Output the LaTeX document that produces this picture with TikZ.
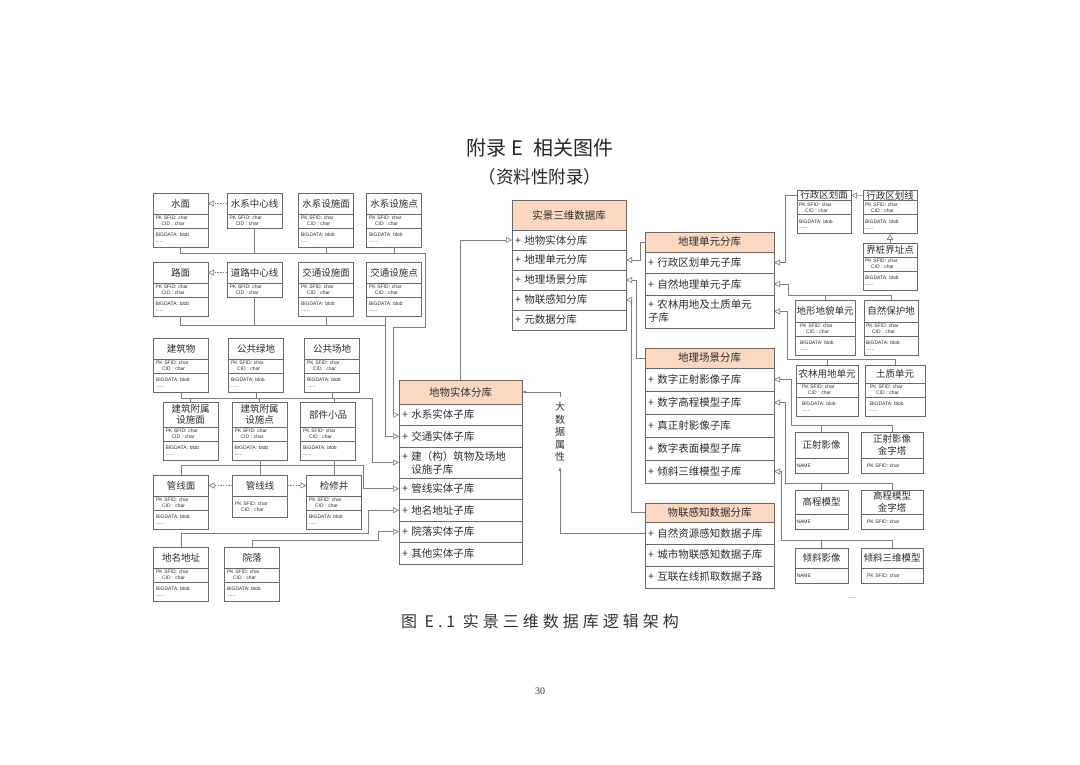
\documentclass[tikz,border=0pt]{standalone}
\usepackage{fontspec}
\setmainfont{Liberation Serif}
\setsansfont{Liberation Sans}
\newfontfamily\cjk{Noto Sans CJK SC}
\newfontfamily\capcjk[LetterSpace=25]{Noto Sans CJK SC}
\usetikzlibrary{positioning,arrows.meta}

\definecolor{boxgray}{RGB}{105,105,105}
\definecolor{linkgray}{RGB}{125,125,125}
\definecolor{txtgray}{RGB}{45,45,45}
\definecolor{peach}{RGB}{250,216,194}

\tikzset{
  entw/.initial=55, enth/.initial=21,
  enttitle/.style={draw=boxgray, line width=0.6pt, outer sep=0pt, inner sep=1pt, anchor=north,
    minimum width=\pgfkeysvalueof{/tikz/entw}, minimum height=\pgfkeysvalueof{/tikz/enth},
    align=center, text=txtgray, font=\cjk\fontsize{9.5}{11.5}\selectfont},
  entattr/.style={draw=boxgray, line width=0.6pt, outer sep=0pt, inner sep=1.5pt,
    minimum width=\pgfkeysvalueof{/tikz/entw}, minimum height=14, text width=50pt,
    align=left, text=txtgray, font=\sffamily\fontsize{5}{5.8}\selectfont},
  entblob/.style={entattr, minimum height=19},
  dbhead/.style={draw=boxgray, line width=0.6pt, fill=peach, outer sep=0pt, text=txtgray,
    font=\cjk\fontsize{10.5}{13}\selectfont},
  dbrow/.style={draw=boxgray, line width=0.6pt, outer sep=0pt, inner xsep=3pt, inner ysep=2pt,
    align=left, text=txtgray, font=\cjk\fontsize{10.5}{13}\selectfont},
  link/.style={draw=linkgray, line width=0.6pt},
  gen/.style={link, -{Triangle[open, length=6pt, width=6pt]}},
  dep/.style={gen, dash pattern=on 1.5pt off 1.2pt},
  attr/.style={link, -{Latex[length=4pt, width=3pt]}},
}

% entity with title, keys and blob
\newcommand{\entbox}[4][]{%
  \begin{scope}[#1]
    \node[enttitle] (#2) at #3 {#4};
    \node[entattr, below=0pt of #2] (#2a) {PK SFID: char\\\hspace*{6pt}CID : char};
    \node[entblob, below=0pt of #2a] (#2b) {BIGDATA: blob\\......};
  \end{scope}}
% entity with title and keys only
\newcommand{\keybox}[4][]{%
  \begin{scope}[#1]
    \node[enttitle] (#2) at #3 {#4};
    \node[entattr, below=0pt of #2] (#2a) {PK SFID: char\\\hspace*{6pt}CID : char};
  \end{scope}}
% image entity with one field
\newcommand{\imgbox}[5][]{%
  \begin{scope}[#1]
    \node[enttitle] (#2) at #3 {#4};
    \node[entattr, minimum height=15, below=0pt of #2] (#2a) {#5};
  \end{scope}}

\begin{document}
\begin{tikzpicture}[x=1pt,y=-1pt]
\path[use as bounding box, fill=white] (0,0) rectangle (1080,764);

\node[font=\cjk\fontsize{20}{24}\selectfont, text=black!85] (title) at (540,148) {附录 E\hspace{10pt}相关图件};
\node[font=\cjk\fontsize{17.5}{21}\selectfont, text=black!85] (subtitle) at (540,177) {（资料性附录）};

% left entities
\entbox{shuimian}{(180.5,193)}{水面}
\keybox{sxzxx}{(254.5,193)}{水系中心线}
\entbox{sxssm}{(326,193)}{水系设施面}
\entbox{sxssd}{(394,193)}{水系设施点}
\entbox{lumian}{(180.5,262)}{路面}
\keybox{dlzxx}{(254.5,262)}{道路中心线}
\entbox{jtssm}{(326,262)}{交通设施面}
\entbox{jtssd}{(394,262)}{交通设施点}
\entbox{jzw}{(181,338)}{建筑物}
\entbox{ggld}{(256,338)}{公共绿地}
\entbox{ggcd}{(332,338)}{公共场地}
\entbox[enth=25]{jzfsm}{(190.5,402)}{建筑附属\\设施面}
\entbox[enth=25]{jzfsd}{(259.5,402)}{建筑附属\\设施点}
\entbox[enth=25]{bjxp}{(328,402)}{部件小品}
\entbox{gxm}{(181,475)}{管线面}
\keybox[entattr/.append style={minimum height=21}]{gxx}{(260,475)}{管线线}
\entbox{jxj}{(334,475)}{检修井}
\entbox{dmdz}{(181,547)}{地名地址}
\entbox{yl}{(252,547)}{院落}

% right entities
\entbox[entw=54, enth=10]{xzqhm}{(824,190)}{行政区划面}
\entbox[entw=54, enth=10]{xzqhx}{(890,190)}{行政区划线}
\entbox[entw=54, enth=14]{jzjzd}{(890,243)}{界桩界址点}
\entbox[entw=60, enth=22]{dxdm}{(825,300)}{地形地貌单元}
\entbox[entw=54, enth=22]{zrbhd}{(891,300)}{自然保护地}
\entbox[entw=62, enth=18]{nlyd}{(827,365)}{农林用地单元}
\entbox[entw=60, enth=18]{tzdy}{(895,365)}{土质单元}
\imgbox[entw=53, enth=26]{zsyx}{(821.5,432)}{正射影像}{NAME}
\imgbox[entw=62, enth=26]{zsjzt}{(892,432)}{正射影像\\金字塔}{PK SFID: char}
\imgbox[entw=53, enth=24]{gcmx}{(821.5,490)}{高程模型}{NAME}
\imgbox[entw=62, enth=24]{gcjzt}{(892,490)}{高程模型\\金字塔}{PK SFID: char}
\imgbox[entw=53, enth=20]{qxyx}{(821.5,548)}{倾斜影像}{NAME}
\imgbox[entw=62, enth=20]{qxmx}{(892,548)}{倾斜三维模型}{PK SFID: char}
\node[font=\sffamily\fontsize{5}{6}\selectfont, text=txtgray] (more) at (852,598) {......};

% databases
\begin{scope}[dbhead/.append style={minimum width=114, minimum height=30}, dbrow/.append style={text width=108pt, minimum height=20}]
\node[dbhead, anchor=north west] (skhead) at (512,200) {实景三维数据库};
\node[dbrow, below=0pt of skhead] (sk1) {+ 地物实体分库};
\node[dbrow, below=0pt of sk1] (sk2) {+ 地理单元分库};
\node[dbrow, below=0pt of sk2] (sk3) {+ 地理场景分库};
\node[dbrow, below=0pt of sk3] (sk4) {+ 物联感知分库};
\node[dbrow, below=0pt of sk4] (sk5) {+ 元数据分库};
\end{scope}

\begin{scope}[dbhead/.append style={minimum width=123, minimum height=24}, dbrow/.append style={text width=117pt, minimum height=21.5}]
\node[dbhead, anchor=north west] (dwhead) at (399,380) {地物实体分库};
\node[dbrow, below=0pt of dwhead] (dw1) {+ 水系实体子库};
\node[dbrow, below=0pt of dw1] (dw2) {+ 交通实体子库};
\node[dbrow, below=0pt of dw2, minimum height=31] (dw3) {+ 建（构）筑物及场地\\\phantom{+ }设施子库};
\node[dbrow, below=0pt of dw3] (dw4) {+ 管线实体子库};
\node[dbrow, below=0pt of dw4] (dw5) {+ 地名地址子库};
\node[dbrow, below=0pt of dw5] (dw6) {+ 院落实体子库};
\node[dbrow, below=0pt of dw6] (dw7) {+ 其他实体子库};
\end{scope}

\begin{scope}[dbhead/.append style={minimum width=129, minimum height=20}, dbrow/.append style={text width=123pt}]
\node[dbhead, anchor=north west] (dyhead) at (645,232) {地理单元分库};
\node[dbrow, below=0pt of dyhead, minimum height=21] (dy1) {+ 行政区划单元子库};
\node[dbrow, below=0pt of dy1, minimum height=22] (dy2) {+ 自然地理单元子库};
\node[dbrow, below=0pt of dy2, minimum height=33] (dy3) {+ 农林用地及土质单元\\子库};
\node[dbhead, anchor=north west] (dchead) at (645,348) {地理场景分库};
\node[dbrow, below=0pt of dchead, minimum height=23] (dc1) {+ 数字正射影像子库};
\node[dbrow, below=0pt of dc1, minimum height=23] (dc2) {+ 数字高程模型子库};
\node[dbrow, below=0pt of dc2, minimum height=23] (dc3) {+ 真正射影像子库};
\node[dbrow, below=0pt of dc3, minimum height=23] (dc4) {+ 数字表面模型子库};
\node[dbrow, below=0pt of dc4, minimum height=23] (dc5) {+ 倾斜三维模型子库};
\node[dbhead, anchor=north west, minimum height=19] (wlhead) at (645,503) {物联感知数据分库};
\node[dbrow, below=0pt of wlhead, minimum height=22] (wl1) {+ 自然资源感知数据子库};
\node[dbrow, below=0pt of wl1, minimum height=22] (wl2) {+ 城市物联感知数据子库};
\node[dbrow, below=0pt of wl2, minimum height=22] (wl3) {+ 互联在线抓取数据子路};
\end{scope}

\node[align=center, inner sep=5pt, text=txtgray, font=\cjk\fontsize{10}{12.5}\selectfont] (bigattr) at (560,432) {大\\数\\据\\属\\性};

% bends of the left connectors
\coordinate (sxbus) at (425,253);
\coordinate (sxbend) at (393,327);
\coordinate (jtbus) at (385,325);
\coordinate (jzbus) at (372,398);
\coordinate (gxbus) at (363,465);
\coordinate (dmbend) at (368,533);
\coordinate (ylbend) at (378,540);

\draw[dep] (sxzxx.west) -- (shuimian.east);
\draw[dep] (dlzxx.west) -- (lumian.east);
\draw[dep] (gxx.west) -- (gxm.east);
\draw[dep] (gxx.east) -- (jxj.west);

\draw[gen] (shuimianb.south) |- (sxbus) |- (sxbend) |- (dw1.west);
\draw[link] (sxzxxa.south) -- (sxzxxa.south |- sxbus);
\draw[link] (sxssmb.south) -- (sxssmb.south |- sxbus);
\draw[link] (sxssdb.south) -- (sxssdb.south |- sxbus);

\draw[link] (lumianb.south) |- (jtbus);
\draw[link] (dlzxxa.south) -- (dlzxxa.south |- jtbus);
\draw[link] (jtssmb.south) -- (jtssmb.south |- jtbus);
\draw[gen] (jtssdb.south -| jtbus) |- (dw2.west);

\draw[gen] (jzwb.south) |- (jzbus) |- (dw3.west);
\draw[link] (ggldb.south) -- (ggldb.south |- jzbus);
\draw[link] (ggcdb.south) -- (ggcdb.south |- jzbus);
\draw[link] (jzfsm.north) -- (jzfsm.north |- jzbus);
\draw[link] (jzfsd.north) -- (jzfsd.north |- jzbus);
\draw[link] (bjxp.north -| jxj.north) -- (jzbus -| jxj.north);

\draw[gen] (gxm.north) |- (gxbus) |- (dw4.west);
\draw[link] (jzfsdb.south -| gxx.north) -- (gxx.north);
\draw[link] (bjxpb.south -| jxj.north) -- (jxj.north);

\draw[gen] (dmdz.north) |- (dmbend) |- (dw5.west);
\draw[gen] (yl.north) |- (ylbend) |- (dw6.west);

% database links
\draw[gen] (dwhead.north) |- (sk1.west);
\draw[gen] (dyhead.west) -- ++(-5,0) |- (sk2.east);
\draw[gen] (dchead.west) -- ++(-9,0) |- (sk3.east);
\draw[gen] (wlhead.west) -- ++(-14,0) |- (sk4.east);
\draw[attr] (bigattr.north) |- (dwhead.east);
\draw[attr] (wl1.west) -| (bigattr.south);

% right links
\draw[gen] (xzqhx.west) -- (xzqhm.east);
\draw[gen] (jzjzd.north) -- (xzqhxb.south);
\draw[gen] (xzqhm.west) -- ++(-12,0) |- (dy1.east);
\draw[gen] (zrbhd.north) |- (788,295) |- (dy2.east);
\draw[link] (dxdm.north) -- (dxdm.north |- 0,295);
\draw[gen] (tzdy.north) |- (787,359) |- (dy3.east);
\draw[link] (nlyd.north) -- (nlyd.north |- 0,359);
\draw[gen] (zsjzt.north) |- (791,425) |- (dc1.east);
\draw[link] (zsyx.north) -- (zsyx.north |- 0,425);
\draw[gen] (gcjzt.north) |- (785,483) |- (dc2.east);
\draw[link] (gcmx.north) -- (gcmx.north |- 0,483);
\draw[gen] (qxmx.north) |- (781,540) |- (dc5.east);
\draw[link] (qxyx.north) -- (qxyx.north |- 0,540);

\node[font=\capcjk\fontsize{16}{19}\selectfont, text=black!80] (caption) at (540,621) {图 E.1 实景三维数据库逻辑架构};
\node[font=\rmfamily\fontsize{10}{12}\selectfont, text=black!80] (pageno) at (540,691) {30};
\end{tikzpicture}
\end{document}
